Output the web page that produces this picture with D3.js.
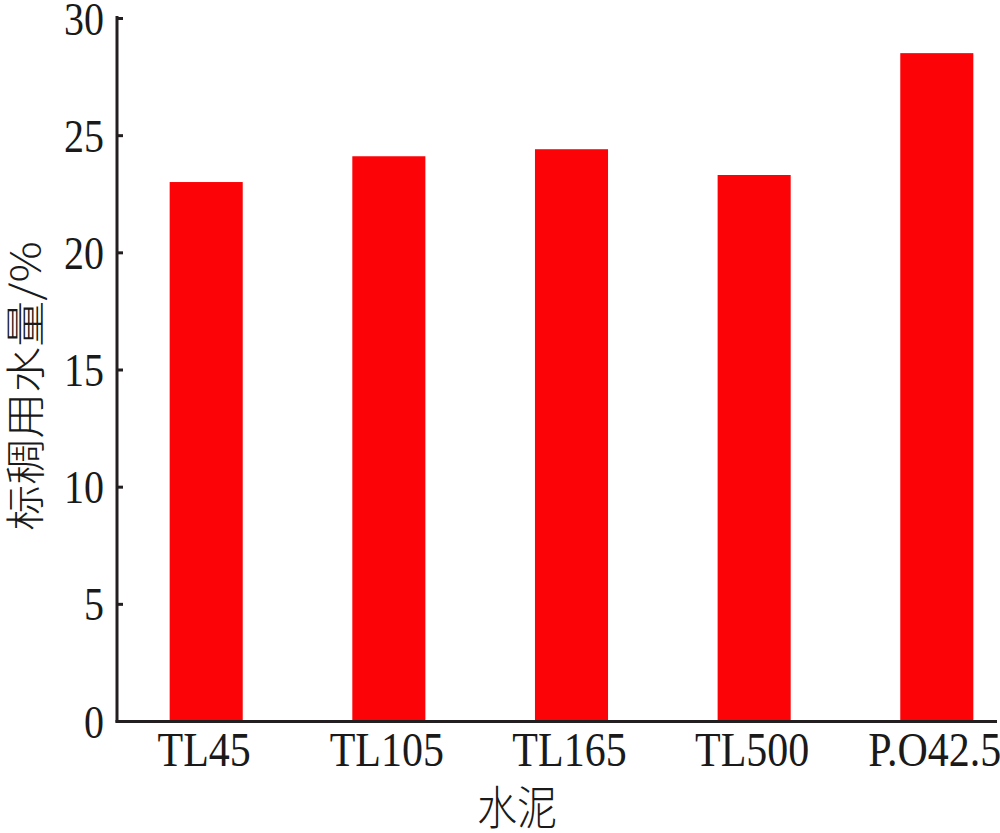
<!DOCTYPE html>
<html>
<head>
<meta charset="utf-8">
<script src="https://cdn.jsdelivr.net/npm/d3@7"></script>
<style>
  html, body { margin: 0; padding: 0; background: #fff; }
  svg { display: block; }
</style>
</head>
<body>
<svg id="chart" width="1000" height="833"></svg>
<script>
const categories = ["TL45", "TL105", "TL165", "TL500", "P.O42.5"];
const values = [23.0, 24.1, 24.4, 23.3, 28.5];
const yTicks = [0, 5, 10, 15, 20, 25, 30];
const xTitle = "水泥";
const yTitle = "标稠用水量/%";

const svg = d3.select("#chart");
const stretch = 1.15;
const latinFont = "'Liberation Serif', 'DejaVu Serif', serif";
const cjkFont = "'Noto Sans CJK SC', 'Liberation Serif', sans-serif";
const axisColor = "#231f20";

const y = d3.scaleLinear().domain([0, 30]).range([721, 18]);
const x = d3.scaleBand().domain(categories).range([124, 1019])
  .paddingInner(0.6).paddingOuter(0.25);

// bars
svg.append("g").selectAll("rect").data(values).join("rect")
  .attr("x", (d, i) => x(categories[i]))
  .attr("width", x.bandwidth())
  .attr("y", d => y(d))
  .attr("height", d => y(0) - y(d))
  .attr("fill", "#fb0307");

// y axis
const yAxis = svg.append("g")
  .attr("transform", "translate(117,0)")
  .call(d3.axisLeft(y).tickValues(yTicks).tickFormat(d3.format("d"))
    .tickSizeInner(-6).tickSizeOuter(0));
yAxis.select(".domain").attr("stroke", axisColor).attr("stroke-width", 3)
  .attr("d", `M0,16V${y(0) + 1.5}`);
yAxis.selectAll(".tick line").attr("stroke", axisColor).attr("stroke-width", 3);
yAxis.selectAll(".tick text")
  .attr("x", null).attr("dy", null).attr("y", null)
  .attr("transform", `translate(-13,16) scale(1,${stretch})`)
  .attr("text-anchor", "end")
  .attr("fill", "#1a1a1a")
  .style("font-family", latinFont).style("font-size", "40px");

// x axis
const xAxis = svg.append("g")
  .attr("transform", `translate(0,${y(0) + 0.5})`)
  .call(d3.axisBottom(x).tickSize(0));
xAxis.select(".domain").attr("stroke", axisColor).attr("stroke-width", 3)
  .attr("d", "M115.5,0H997");
xAxis.selectAll(".tick text")
  .attr("x", null).attr("dy", null).attr("y", null)
  .attr("transform", `translate(-2,44.5) scale(1,${stretch})`)
  .attr("text-anchor", "middle")
  .attr("fill", "#1a1a1a")
  .style("font-family", latinFont).style("font-size", "42px");

// axis titles
svg.append("text")
  .attr("transform", `translate(517,824) scale(1,${stretch})`)
  .attr("text-anchor", "middle")
  .attr("fill", "#1a1a1a")
  .style("font-family", cjkFont).style("font-size", "40px").style("font-weight", 300)
  .text(xTitle);

svg.append("text")
  .attr("transform", `translate(40,386) scale(1,${stretch}) rotate(-90)`)
  .attr("text-anchor", "middle")
  .attr("fill", "#1a1a1a")
  .style("font-family", cjkFont).style("font-size", "40px").style("font-weight", 300)
  .text(yTitle);
</script>
</body>
</html>
